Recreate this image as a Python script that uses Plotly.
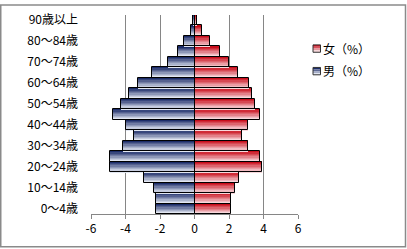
import plotly.graph_objects as go

# Age groups (bottom to top)
ages = ["0～4歳", "5～9歳", "10～14歳", "15～19歳", "20～24歳", "25～29歳",
        "30～34歳", "35～39歳", "40～44歳", "45～49歳", "50～54歳", "55～59歳",
        "60～64歳", "65～69歳", "70～74歳", "75～79歳", "80～84歳", "85～89歳",
        "90歳以上"]
male = [-2.22, -2.22, -2.34, -2.92, -4.90, -4.90, -4.12, -3.50, -3.98, -4.72,
        -4.29, -3.79, -3.27, -2.45, -1.52, -0.95, -0.60, -0.20, -0.07]
female = [2.14, 2.14, 2.32, 2.60, 3.94, 3.77, 3.13, 2.78, 3.13, 3.77,
          3.53, 3.36, 3.15, 2.55, 1.99, 1.50, 0.90, 0.45, 0.12]
tick_labels = ages[::2]
series_names = ["女（%）", "男（%）"]
x_ticks = [-6, -4, -2, 0, 2, 4, 6]

FONT = "Noto Sans CJK JP"
W, H = 407, 249
L, R, T, B = 91, 109, 11, 35
PW, PH = W - L - R, H - T - B

blue_top, blue_bot = (28, 44, 104), (226, 231, 242)
red_top, red_bot = (200, 14, 28), (248, 216, 220)


def mix(c1, c2, t):
    return "rgb(%d,%d,%d)" % tuple(round(a + (b - a) * t) for a, b in zip(c1, c2))


N = 8
fig = go.Figure()
for vals, ctop, cbot in [(male, blue_top, blue_bot), (female, red_top, red_bot)]:
    for k in range(N):
        fig.add_trace(go.Bar(
            y=ages, x=vals, orientation="h",
            offset=0.5 - (k + 1) / N, width=1 / N,
            marker=dict(color=mix(ctop, cbot, k / (N - 1)), line=dict(width=0)),
            showlegend=False, hoverinfo="skip"))
    fig.add_trace(go.Bar(
        y=ages, x=vals, orientation="h", offset=-0.5, width=1,
        marker=dict(color="rgba(0,0,0,0)", line=dict(color="black", width=1)),
        showlegend=False, hoverinfo="skip"))


def px2paper(px, py):
    return (px - L) / PW, 1 - (py - T) / PH


shapes = []
annotations = []
# chart border
x0, y1 = px2paper(0.75, 0.75)
x1, y0 = px2paper(405.5, 247.5)
shapes.append(dict(type="rect", xref="paper", yref="paper", x0=x0, x1=x1, y0=y0, y1=y1,
                   line=dict(color="#8a8a8a", width=1.5), layer="below"))

# manual legend
for i, (name, ctop, cbot) in enumerate([(series_names[0], red_top, red_bot),
                                       (series_names[1], blue_top, blue_bot)]):
    cy = 45 + i * 23
    sx0, sx1 = 313, 320.5
    sy0, sy1 = cy - 3.5, cy + 4
    M = 4
    for k in range(M):
        a = sy0 + (sy1 - sy0) * k / M
        b = sy0 + (sy1 - sy0) * (k + 1) / M
        p0 = px2paper(sx0, b)
        p1 = px2paper(sx1, a)
        shapes.append(dict(type="rect", xref="paper", yref="paper",
                           x0=p0[0], x1=p1[0], y0=p0[1], y1=p1[1],
                           fillcolor=mix(ctop, cbot, k / (M - 1)), line=dict(width=0)))
    p0 = px2paper(sx0, sy1)
    p1 = px2paper(sx1, sy0)
    shapes.append(dict(type="rect", xref="paper", yref="paper",
                       x0=p0[0], x1=p1[0], y0=p0[1], y1=p1[1],
                       line=dict(color="#333333", width=1)))
    tx, ty = px2paper(321, cy)
    annotations.append(dict(xref="paper", yref="paper", x=tx, y=ty, text=name,
                            showarrow=False, xanchor="left", yanchor="middle",
                            font=dict(family=FONT, size=12, color="black")))

fig.update_layout(
    width=W, height=H,
    margin=dict(l=L, r=R, t=T, b=B, pad=0),
    paper_bgcolor="white", plot_bgcolor="white",
    barmode="overlay", bargap=0,
    font=dict(family=FONT, size=12, color="black"),
    showlegend=False,
    shapes=shapes, annotations=annotations,
    xaxis=dict(range=[-6, 6], tickvals=x_ticks, ticktext=[str(v) for v in x_ticks],
               showgrid=True, gridcolor="#868686", gridwidth=1,
               zeroline=True, zerolinecolor="#868686", zerolinewidth=1,
               showline=True, linecolor="#868686", linewidth=1,
               ticks="outside", ticklen=4, tickcolor="#868686",
               tickfont=dict(family=FONT, size=12, color="black"), fixedrange=True),
    yaxis=dict(type="category", categoryorder="array", categoryarray=ages,
               range=[-0.5, len(ages) - 0.5],
               tickvals=tick_labels, ticktext=tick_labels,
               showgrid=False, zeroline=False, showline=False, ticks="",
               ticklabelstandoff=12,
               tickfont=dict(family=FONT, size=12, color="black"), fixedrange=True),
)

fig.write_html("out.html")
